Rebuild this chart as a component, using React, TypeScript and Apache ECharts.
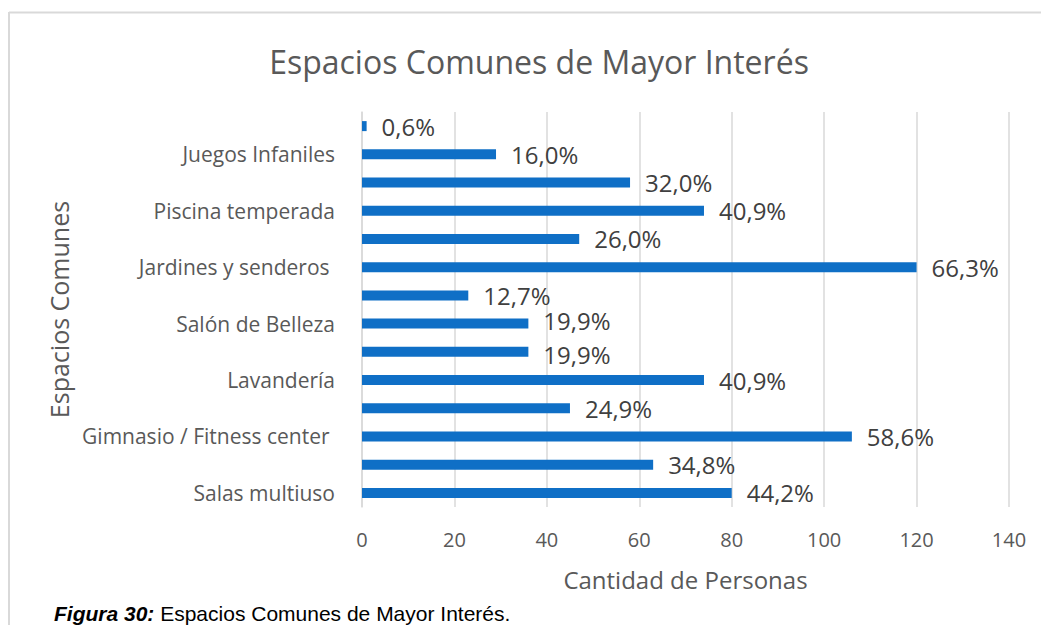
import React, { useEffect, useRef } from "react";
import * as echarts from "echarts";

// bottom to top
const categories = [
  "Salas multiuso",
  "",
  "Gimnasio / Fitness center ",
  "",
  "Lavandería",
  "",
  "Salón de Belleza",
  "",
  "Jardines y senderos ",
  "",
  "Piscina temperada",
  "",
  "Juegos Infaniles",
  "",
];
const counts = [80, 63, 106, 45, 74, 36, 36, 23, 120, 47, 74, 58, 29, 1];
const percentLabels = [
  "44,2%", "34,8%", "58,6%", "24,9%", "40,9%", "19,9%", "19,9%",
  "12,7%", "66,3%", "26,0%", "40,9%", "32,0%", "16,0%", "0,6%",
];
const xTicks = { min: 0, max: 140, interval: 20 };

const titleText = "Espacios Comunes de Mayor Interés";
const xName = "Cantidad de Personas";
const yName = "Espacios Comunes";

export default function App() {
  const ref = useRef<HTMLDivElement>(null);
  useEffect(() => {
    if (!ref.current) return;
    const chart = echarts.init(ref.current, null, { renderer: "svg" });
    const font = "'Open Sans', 'Noto Sans', sans-serif";
    // small vertical nudges so the two adjacent "19,9%" labels do not collide
    const nudges: Record<number, number> = { 5: 3, 6: -3 };
    const barData = counts.map((v, i) =>
      nudges[i] !== undefined ? { value: v, label: { offset: [0, nudges[i]] } } : v
    );
    chart.setOption({
      animation: false,
      textStyle: { fontFamily: font },
      title: {
        text: titleText,
        left: 534,
        top: 40,
        textAlign: "center",
        textStyle: { fontFamily: font, fontSize: 32, fontWeight: "normal", color: "#595959" },
      },
      grid: { left: 362, right: 32, top: 112, bottom: 118, containLabel: false },
      xAxis: {
        type: "value",
        min: xTicks.min,
        max: xTicks.max,
        interval: xTicks.interval,
        name: xName,
        nameLocation: "middle",
        nameGap: 60,
        nameTextStyle: { fontFamily: font, fontSize: 24, color: "#595959" },
        axisLine: { show: false },
        axisTick: { show: false },
        axisLabel: { fontFamily: font, fontSize: 20, color: "#595959", margin: 22 },
        splitLine: { show: true, lineStyle: { color: "#D9D9D9", width: 1.5 } },
      },
      yAxis: {
        type: "category",
        data: categories,
        name: yName,
        nameLocation: "middle",
        nameGap: 284,
        nameRotate: 90,
        nameTextStyle: { fontFamily: font, fontSize: 25, color: "#595959" },
        axisLine: { show: true, lineStyle: { color: "#D9D9D9", width: 1.5 } },
        axisTick: { show: false },
        axisLabel: { interval: 1, fontFamily: font, fontSize: 21, color: "#595959", margin: 27 },
        splitLine: { show: false },
      },
      series: [
        {
          type: "bar",
          data: barData,
          barWidth: 10,
          itemStyle: { color: "#0F6FC6" },
          label: {
            show: true,
            position: "right",
            distance: 15,
            fontFamily: font,
            fontSize: 24,
            lineHeight: 24,
            color: "#404040",
            formatter: (p: any) => percentLabels[p.dataIndex],
          },
        },
      ],
      graphic: [
        { type: "line", shape: { x1: 9, y1: 12.5, x2: 1041, y2: 12.5 }, style: { stroke: "#D9D9D9", lineWidth: 2 } },
        { type: "line", shape: { x1: 9, y1: 12, x2: 9, y2: 625 }, style: { stroke: "#D9D9D9", lineWidth: 2 } },
        {
          type: "text",
          left: 54,
          top: 603,
          style: {
            rich: {
              b: { fontFamily: "'Liberation Sans', Arial, sans-serif", fontSize: 21, fontWeight: "bold", fontStyle: "italic", fill: "#000" },
              n: { fontFamily: "'Liberation Sans', Arial, sans-serif", fontSize: 21, fill: "#000" },
            },
            text: "{b|Figura 30:}{n| Espacios Comunes de Mayor Interés.}",
          },
        },
      ],
    });
    return () => chart.dispose();
  }, []);
  return (
    <div
      ref={ref}
      style={{ position: "absolute", left: 0, top: 0, width: 1041, height: 625, background: "#fff" }}
    />
  );
}
